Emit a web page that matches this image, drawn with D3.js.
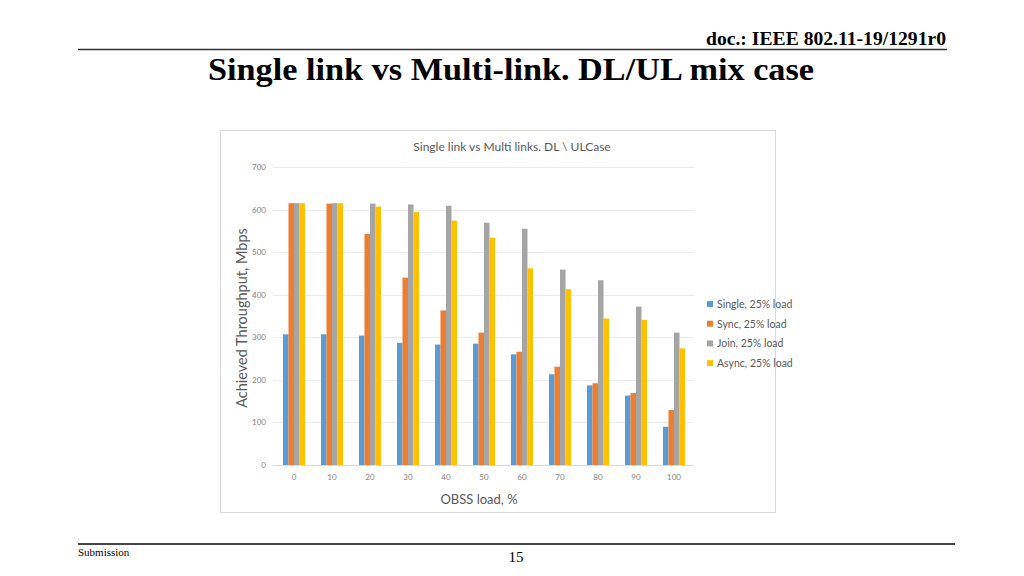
<!DOCTYPE html>
<html>
<head>
<meta charset="utf-8">
<script src="https://cdn.jsdelivr.net/npm/d3@7"></script>
<style>
  body { margin: 0; background: #fff; }
  svg { display: block; }
</style>
</head>
<body>
<div id="chart"></div>
<script>
// chart data
const categories = ["0", "10", "20", "30", "40", "50", "60", "70", "80", "90", "100"];
const seriesNames = ["Single, 25% load", "Sync, 25% load", "Join, 25% load", "Async, 25% load"];
const single = [307, 307, 304, 287, 283, 285, 260, 213, 187, 163, 90];
const sync   = [615, 614, 543, 440, 363, 311, 266, 231, 192, 169, 129];
const join   = [615, 615, 614, 612, 609, 569, 555, 459, 434, 372, 311];
const async_ = [615, 615, 607, 594, 574, 534, 462, 413, 344, 341, 274];
const yTicks = [0, 100, 200, 300, 400, 500, 600, 700];
const colors = ["#5B9BD5", "#ED7D31", "#A5A5A5", "#FFC000"];

const series = [single, sync, join, async_];

const svg = d3.select("#chart").append("svg")
    .attr("width", 1024)
    .attr("height", 576);

// slide header / footer
svg.append("text")
    .attr("x", 946).attr("y", 45)
    .attr("text-anchor", "end")
    .attr("font-family", "Liberation Serif, serif")
    .attr("font-weight", "bold")
    .attr("font-size", 19)
    .attr("textLength", 240)
    .attr("lengthAdjust", "spacingAndGlyphs")
    .text("doc.: IEEE 802.11-19/1291r0");
svg.append("line")
    .attr("x1", 78).attr("x2", 947).attr("y1", 49.5).attr("y2", 49.5)
    .attr("stroke", "#333").attr("stroke-width", 1.5);
svg.append("text")
    .attr("x", 511).attr("y", 80)
    .attr("text-anchor", "middle")
    .attr("font-family", "Liberation Serif, serif")
    .attr("font-weight", "bold")
    .attr("font-size", 32)
    .attr("textLength", 606)
    .attr("lengthAdjust", "spacingAndGlyphs")
    .text("Single link vs Multi-link. DL/UL mix case");

svg.append("line")
    .attr("x1", 78).attr("x2", 955).attr("y1", 544).attr("y2", 544)
    .attr("stroke", "#444").attr("stroke-width", 2);
svg.append("text")
    .attr("x", 78).attr("y", 556)
    .attr("font-family", "Liberation Serif, serif")
    .attr("font-size", 11)
    .text("Submission");
svg.append("text")
    .attr("x", 516).attr("y", 562)
    .attr("text-anchor", "middle")
    .attr("font-family", "Liberation Serif, serif")
    .attr("font-size", 15)
    .text("15");

// chart frame
svg.append("rect")
    .attr("x", 220.5).attr("y", 130.5)
    .attr("width", 555).attr("height", 382)
    .attr("fill", "#fff").attr("stroke", "#d9d9d9");

const font = "Lato, Open Sans, sans-serif";

svg.append("text")
    .attr("x", 512).attr("y", 151)
    .attr("text-anchor", "middle")
    .attr("font-family", font)
    .attr("font-size", 12)
    .attr("fill", "#595959")
    .text("Single link vs Multi links. DL \\ ULCase");

const x0 = d3.scaleBand()
    .domain(categories)
    .range([275, 693])
    .paddingInner(0.42)
    .paddingOuter(0.21);

const x1 = d3.scaleBand()
    .domain(d3.range(series.length))
    .range([0, x0.bandwidth()]);

const y = d3.scaleLinear()
    .domain([0, 700])
    .range([465, 167]);

// gridlines
svg.append("g")
    .selectAll("line")
    .data(yTicks)
    .enter().append("line")
    .attr("x1", 273).attr("x2", 694)
    .attr("y1", d => Math.round(y(d)) + 0.5)
    .attr("y2", d => Math.round(y(d)) + 0.5)
    .attr("stroke", d => d === 0 ? "#d9d9d9" : "#ececec");

// y tick labels
svg.append("g")
    .selectAll("text")
    .data(yTicks)
    .enter().append("text")
    .attr("x", 266)
    .attr("y", d => y(d) + 3)
    .attr("text-anchor", "end")
    .attr("font-family", font)
    .attr("font-size", 8)
    .attr("fill", "#7f7f7f")
    .text(d => d);

// bars
const groups = svg.append("g")
    .selectAll("g")
    .data(categories)
    .enter().append("g")
    .attr("transform", d => "translate(" + x0(d) + ",0)");

groups.selectAll("rect")
    .data((d, i) => series.map((s, k) => ({ k: k, v: s[i] })))
    .enter().append("rect")
    .attr("x", d => x1(d.k))
    .attr("width", x1.bandwidth())
    .attr("y", d => y(d.v))
    .attr("height", d => y(0) - y(d.v))
    .attr("fill", d => colors[d.k]);

// x tick labels
svg.append("g")
    .selectAll("text")
    .data(categories)
    .enter().append("text")
    .attr("x", d => x0(d) + x0.bandwidth() / 2)
    .attr("y", 480)
    .attr("text-anchor", "middle")
    .attr("font-family", font)
    .attr("font-size", 8)
    .attr("fill", "#7f7f7f")
    .text(d => d);

// axis titles
svg.append("text")
    .attr("x", 479).attr("y", 504)
    .attr("text-anchor", "middle")
    .attr("font-family", font)
    .attr("font-size", 13)
    .attr("fill", "#595959")
    .text("OBSS load, %");

svg.append("text")
    .attr("transform", "translate(247,318) rotate(-90)")
    .attr("text-anchor", "middle")
    .attr("font-family", font)
    .attr("font-size", 14.5)
    .attr("fill", "#595959")
    .text("Achieved Throughput, Mbps");

// legend
const legend = svg.append("g")
    .selectAll("g")
    .data(seriesNames)
    .enter().append("g")
    .attr("transform", (d, i) => "translate(707," + (305 + i * 19.7) + ")");
legend.append("rect")
    .attr("x", 0).attr("y", -4)
    .attr("width", 6).attr("height", 6)
    .attr("fill", (d, i) => colors[i]);
legend.append("text")
    .attr("x", 10).attr("y", 3)
    .attr("font-family", font)
    .attr("font-size", 10.5)
    .attr("fill", "#595959")
    .text(d => d);
</script>
</body>
</html>
